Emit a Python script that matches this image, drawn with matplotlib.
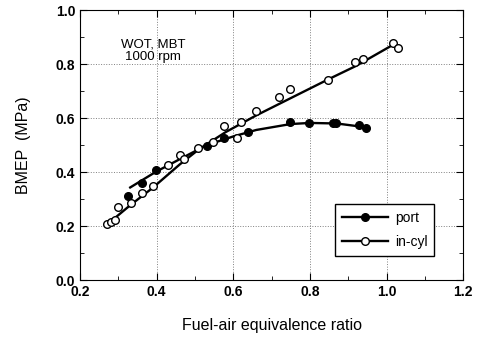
import matplotlib.pyplot as plt
from matplotlib.ticker import MultipleLocator

plt.rcParams['font.family'] = ['Liberation Sans', 'DejaVu Sans']

# measured points
port_phi = [0.326, 0.361, 0.398, 0.531, 0.575, 0.639, 0.748, 0.798, 0.859, 0.868, 0.929, 0.946]
port_bmep = [0.311, 0.360, 0.407, 0.496, 0.525, 0.547, 0.584, 0.583, 0.583, 0.583, 0.574, 0.565]

cyl_phi = [0.270, 0.280, 0.291, 0.300, 0.332, 0.363, 0.391, 0.429, 0.461, 0.472, 0.509, 0.548,
           0.577, 0.609, 0.620, 0.659, 0.718, 0.748, 0.848, 0.918, 0.938, 1.018, 1.030]
cyl_bmep = [0.207, 0.215, 0.222, 0.269, 0.284, 0.323, 0.348, 0.426, 0.463, 0.447, 0.488, 0.512,
            0.572, 0.528, 0.586, 0.627, 0.677, 0.707, 0.741, 0.806, 0.820, 0.879, 0.860]

# fitted curves as drawn
port_fit_phi = [0.331, 0.398, 0.47, 0.531, 0.60, 0.66, 0.75, 0.80, 0.87, 0.946]
port_fit_bmep = [0.343, 0.401, 0.455, 0.50, 0.532, 0.556, 0.578, 0.582, 0.58, 0.566]

cyl_fit_phi = [0.27, 0.33, 0.39, 0.46, 0.51, 0.58, 0.66, 0.75, 0.85, 0.92, 1.015]
cyl_fit_bmep = [0.205, 0.276, 0.342, 0.428, 0.484, 0.548, 0.610, 0.674, 0.745, 0.793, 0.87]

fig = plt.figure(figsize=(4.82, 3.37), dpi=100)
ax = fig.add_axes([0.166, 0.169, 0.795, 0.801])

ax.plot(port_fit_phi, port_fit_bmep, color='black', lw=1.7, zorder=2)
ax.plot(cyl_fit_phi, cyl_fit_bmep, color='black', lw=1.7, zorder=2)
ax.plot(port_phi, port_bmep, 'o', ms=5.5, mfc='black', mec='black', zorder=3)
ax.plot(cyl_phi, cyl_bmep, 'o', ms=5.5, mfc='white', mec='black', mew=1.0, zorder=3)

# legend handles
ax.plot([], [], '-o', color='black', lw=1.7, ms=5.5, mfc='black', label='port')
ax.plot([], [], '-o', color='black', lw=1.7, ms=5.5, mfc='white', label='in-cyl')
leg = ax.legend(loc='lower right', bbox_to_anchor=(0.925, 0.09), fancybox=False,
                edgecolor='black', framealpha=1, fontsize=10, handlelength=3.3,
                handletextpad=0.5, borderpad=0.5, labelspacing=0.7, borderaxespad=0)
leg.get_frame().set_linewidth(1.0)

ax.set_xlim(0.2, 1.2)
ax.set_ylim(0.0, 1.0)
ax.xaxis.set_major_locator(MultipleLocator(0.2))
ax.xaxis.set_minor_locator(MultipleLocator(0.1))
ax.yaxis.set_major_locator(MultipleLocator(0.2))
ax.yaxis.set_minor_locator(MultipleLocator(0.1))
ax.tick_params(which='both', direction='in', top=True, right=True, labelsize=10)
ax.tick_params(which='major', length=5)
ax.tick_params(which='minor', length=3)
for lab in ax.get_xticklabels() + ax.get_yticklabels():
    lab.set_fontweight('bold')
ax.grid(True, which='major', linestyle=':', color='0.5', lw=0.7)

ax.text(0.39, 0.85, 'WOT, MBT\n1000 rpm', ha='center', va='center', fontsize=9.5,
        linespacing=1.1)

ax.set_xlabel('Fuel-air equivalence ratio', fontsize=11.5, labelpad=14)
ax.set_ylabel('BMEP  (MPa)', fontsize=11.5, labelpad=18)

fig.savefig('out.png', dpi=100)
